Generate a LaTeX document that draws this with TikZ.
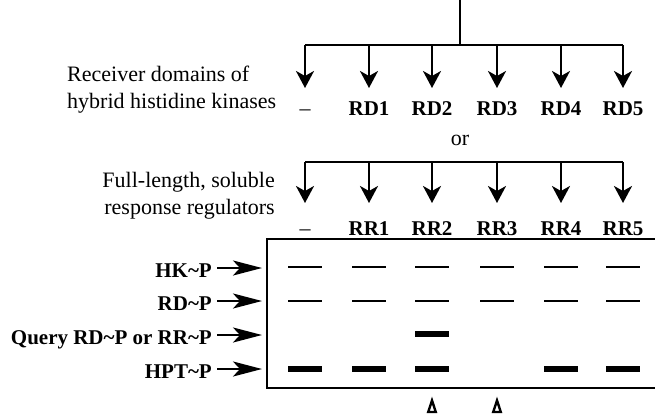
\documentclass[tikz,border=0pt]{standalone}
\usepackage{fontspec}
\setmainfont{Liberation Serif}
\usetikzlibrary{arrows.meta}
\begin{document}
\begin{tikzpicture}[x=1pt,y=-1pt,
  branch/.style={line width=2.4pt},
  drop/.style={line width=2.4pt,-{Stealth[length=17pt,width=18pt,inset=5pt]}},
  lanelbl/.style={font=\fontsize{21}{24}\selectfont\bfseries,inner sep=0pt,anchor=base},
  dashlbl/.style={font=\fontsize{22}{27}\selectfont,inner sep=0pt,anchor=base},
  rowlbl/.style={font=\fontsize{21}{24}\selectfont\bfseries,inner sep=0pt,anchor=base east},
  rowarrow/.style={line width=2.4pt,-{Stealth[length=29pt,width=15pt,inset=7pt]}},
  desc/.style={font=\fontsize{22}{27}\selectfont,inner sep=0pt},
  thinband/.style={line width=1.5pt},
  thickband/.style={line width=5.5pt},
  gel/.style={line width=2.2pt},
  marker/.style={line width=2.4pt,line join=miter}
]
\useasboundingbox (0,0) rectangle (655,418);

% top branching: receiver domains
\coordinate (stem) at (460,0);
\coordinate (hub1) at (460,45);
\draw[branch] (stem) -- (hub1);
\draw[branch] (305,45) -- (623,45);
\foreach \i/\x in {0/305,1/369,2/432,3/497,4/561,5/623}{
  \coordinate (a\i) at (\x,45);
  \coordinate (ta\i) at (\x,88);
  \draw[drop] (a\i) -- (ta\i);
}
\node[dashlbl] (rd0) at (305,115) {--};
\foreach \i/\x/\t in {1/369/RD1,2/432/RD2,3/497/RD3,4/561/RD4,5/623/RD5}{
  \node[lanelbl] (rd\i) at (\x,115) {\t};
}
\node[desc,align=left,anchor=west] (rdtext) at (67,89.5) {Receiver domains of\\hybrid histidine kinases};

\node[desc] (or) at (460,140) {or};

% second branching: response regulators
\draw[branch] (305,162) -- (623,162);
\foreach \i/\x in {0/305,1/369,2/432,3/497,4/561,5/623}{
  \coordinate (b\i) at (\x,162);
  \coordinate (tb\i) at (\x,203);
  \draw[drop] (b\i) -- (tb\i);
}
\node[dashlbl] (rr0) at (305,235) {--};
\foreach \i/\x/\t in {1/369/RR1,2/432/RR2,3/497/RR3,4/561/RR4,5/623/RR5}{
  \node[lanelbl] (rr\i) at (\x,235) {\t};
}
\node[desc,align=right,anchor=east] (rrtext) at (275,196) {Full-length, soluble\\response regulators};

% gel frame
\coordinate (gelTL) at (267,239);
\coordinate (gelBR) at (656,388);
\draw[gel] (656,239) -- (gelTL) |- (gelBR);

% row labels with arrows
\foreach \n/\y/\t in {hk/268/{HK\char`~P},rd/301/{RD\char`~P},q/335/{Query RD\char`~P or RR\char`~P},hpt/369/{HPT\char`~P}}{
  \node[rowlbl] (l\n) at (212,\y+9) {\t};
  \coordinate (e\n) at (262,\y);
  \draw[rowarrow] (l\n.east |- e\n) ++(5,0) -- (e\n);
}

% bands
\foreach \x in {305,369,432,497,561,623}{
  \draw[thinband] (\x-17,267) -- (\x+17,267);
  \draw[thinband] (\x-17,301) -- (\x+17,301);
}
\draw[thickband] (415,334) -- (449,334);
\foreach \x in {305,369,432,561,623}{
  \draw[thickband] (\x-17,369) -- (\x+17,369);
}

% markers below lanes
\foreach \x in {432,497}{
  \draw[marker] (\x,400.5) -- (\x+3.8,412) -- (\x-3.8,412) -- cycle;
}
\end{tikzpicture}
\end{document}
